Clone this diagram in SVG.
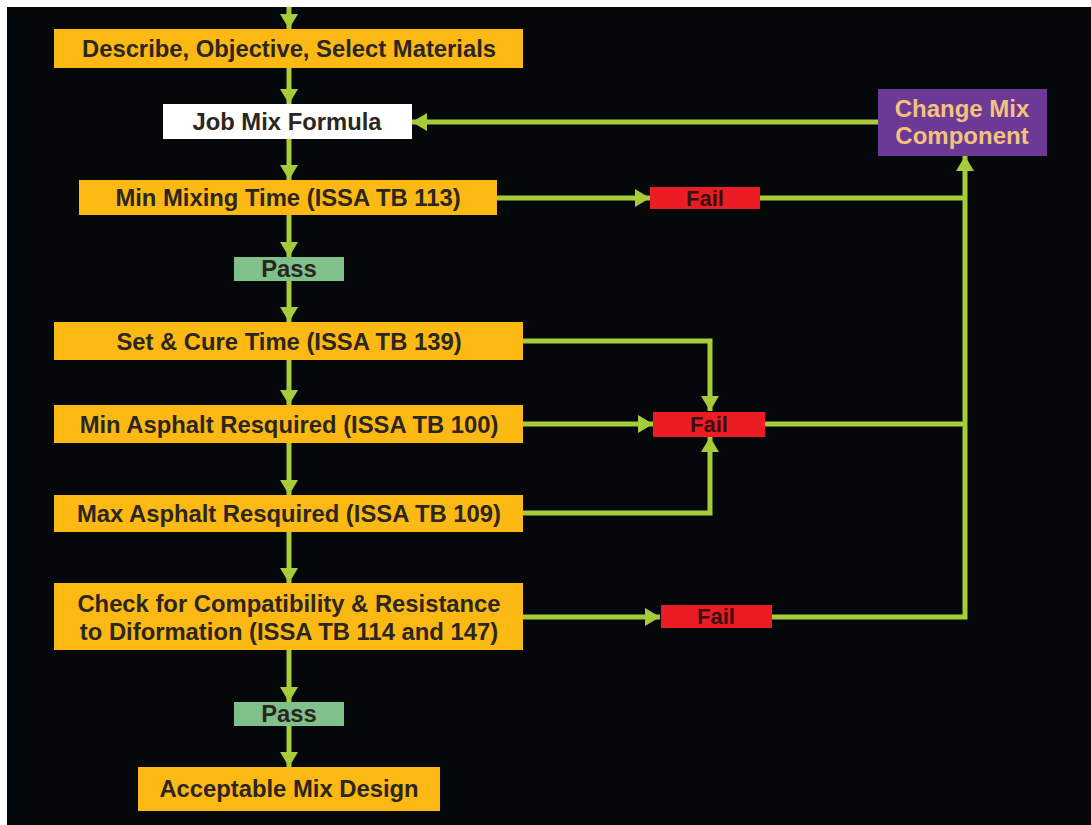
<svg xmlns="http://www.w3.org/2000/svg" width="1091" height="825" viewBox="0 0 1091 825">
<defs>
<marker id="ah" markerUnits="userSpaceOnUse" markerWidth="16" markerHeight="18" refX="15" refY="9" orient="auto">
<path d="M0,0 L15,9 L0,18 z" fill="#a6cd39"/>
</marker>
<style>
.bg{fill:#05080a}
.ora{fill:#fdb913}
.wht{fill:#ffffff}
.red{fill:#ec1c24}
.grn{fill:#80c08b}
.pur{fill:#6c3a96}
.t{font-family:"Liberation Sans",Arial,sans-serif;font-weight:bold;font-size:23.8px;fill:#2b2620;text-anchor:middle}
.tf{font-family:"Liberation Sans",Arial,sans-serif;font-weight:bold;font-size:22px;fill:#3a1010;text-anchor:middle}
.tp{font-family:"Liberation Sans",Arial,sans-serif;font-weight:bold;font-size:24px;fill:#f3c27e;text-anchor:middle}
.c{fill:none;stroke:#a6cd39;stroke-width:5}
.ca{fill:none;stroke:#a6cd39;stroke-width:5;marker-end:url(#ah)}
</style>
</defs>
<rect x="0" y="0" width="1091" height="825" fill="#ffffff"/>
<rect class="bg" x="7" y="7" width="1084" height="818"/>
<g id="connectors">
<path class="ca" d="M289,7 V29"/>
<path class="ca" d="M289,68 V104"/>
<path class="ca" d="M289,139 V180"/>
<path class="ca" d="M289,215 V257"/>
<path class="ca" d="M289,280 V322"/>
<path class="ca" d="M289,359 V405"/>
<path class="ca" d="M289,443 V495"/>
<path class="ca" d="M289,532 V583"/>
<path class="ca" d="M289,650 V702"/>
<path class="ca" d="M289,726 V767"/>
<path class="ca" d="M497,198 H650"/>
<path class="c" d="M760,198 H965"/>
<path class="c" d="M765,424 H965"/>
<path class="ca" d="M772,617 H965 V156"/>
<path class="ca" d="M878,122 H412"/>
<path class="ca" d="M523,341 H710 V411"/>
<path class="ca" d="M523,424 H653"/>
<path class="ca" d="M523,513 H710 V437"/>
<path class="ca" d="M523,617 H660"/>
</g>
<g id="n-describe">
<rect class="ora" x="54" y="29" width="469" height="39"/>
<text class="t" x="289" y="57">Describe, Objective, Select Materials</text>
</g>
<g id="n-jobmix">
<rect class="wht" x="163" y="104" width="249" height="35"/>
<text class="t" x="287" y="130">Job Mix Formula</text>
</g>
<g id="n-change">
<rect class="pur" x="878" y="89" width="169" height="67"/>
<text class="tp" x="962" y="117">Change Mix</text>
<text class="tp" x="962" y="144">Component</text>
</g>
<g id="n-minmix">
<rect class="ora" x="79" y="180" width="418" height="35"/>
<text class="t" x="288" y="206">Min Mixing Time (ISSA TB 113)</text>
</g>
<g id="n-fail1">
<rect class="red" x="650" y="187" width="110" height="22"/>
<text class="tf" x="705" y="206">Fail</text>
</g>
<g id="n-pass1">
<rect class="grn" x="234" y="257" width="110" height="24"/>
<text class="t" x="289" y="277">Pass</text>
</g>
<g id="n-setcure">
<rect class="ora" x="54" y="322" width="469" height="38"/>
<text class="t" x="289" y="349.5">Set &amp; Cure Time (ISSA TB 139)</text>
</g>
<g id="n-minasph">
<rect class="ora" x="54" y="405" width="469" height="38"/>
<text class="t" x="289" y="432.5">Min Asphalt Resquired (ISSA TB 100)</text>
</g>
<g id="n-fail2">
<rect class="red" x="653" y="412" width="112" height="25"/>
<text class="tf" x="709" y="432">Fail</text>
</g>
<g id="n-maxasph">
<rect class="ora" x="54" y="495" width="469" height="37"/>
<text class="t" x="289" y="522">Max Asphalt Resquired (ISSA TB 109)</text>
</g>
<g id="n-check">
<rect class="ora" x="54" y="583" width="469" height="67"/>
<text class="t" x="289" y="612">Check for Compatibility &amp; Resistance</text>
<text class="t" x="289" y="640">to Diformation (ISSA TB 114 and 147)</text>
</g>
<g id="n-fail3">
<rect class="red" x="661" y="605" width="111" height="23"/>
<text class="tf" x="716" y="624">Fail</text>
</g>
<g id="n-pass2">
<rect class="grn" x="234" y="702" width="110" height="24"/>
<text class="t" x="289" y="722">Pass</text>
</g>
<g id="n-accept">
<rect class="ora" x="138" y="767" width="302" height="44"/>
<text class="t" x="289" y="797">Acceptable Mix Design</text>
</g>
</svg>
